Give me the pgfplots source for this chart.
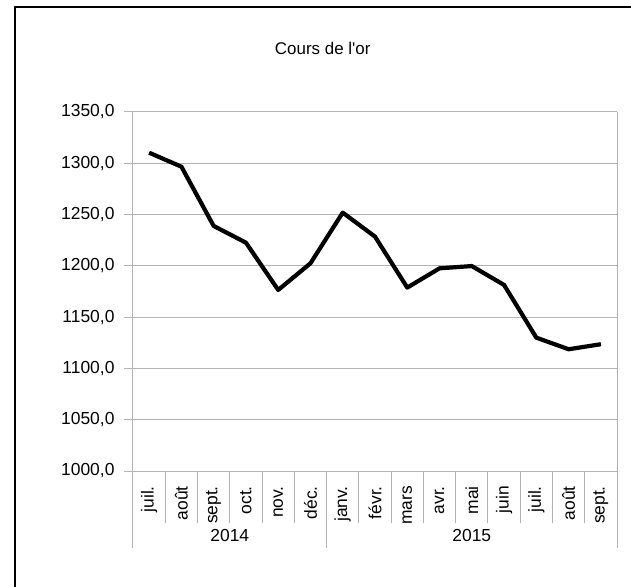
\documentclass[border=0pt]{standalone}
\usepackage{pgfplots}
\pgfplotsset{compat=1.18}
\usepackage{fontspec}
\setmainfont{Liberation Sans}[Ligatures=TeXOff]
\definecolor{gridgray}{HTML}{B3B3B3}
\begin{document}
\begin{tikzpicture}
\path[use as bounding box, clip] (-133bp,-116bp) rectangle (498bp,471bp);
\draw[black, line width=1.5bp] (-118bp,-300bp) rectangle (510bp,464bp);
\begin{axis}[
  at={(0,0)}, anchor=south west,
  scale only axis,
  width=484bp, height=359bp,
  xmin=-0.5, xmax=14.5,
  ymin=1000, ymax=1350,
  ytick={1000,1050,...,1350},
  xtick=\empty,
  font=\fontsize{17.5}{20}\selectfont,
  ticklabel style={font=\fontsize{17.5}{20}\selectfont},
  major y tick style={gridgray, line width=1bp},
  major tick length=9bp,
  tick align=outside,
  y tick label style={xshift=-6bp, /pgf/number format/.cd, fixed, fixed zerofill, precision=1, use comma, 1000 sep={}, assume math mode=true},
  ymajorgrids,
  grid style={gridgray, line width=1bp},
  axis line style={gridgray, line width=1bp},
  axis x line*=bottom,
  axis y line*=left,
  clip=false,
  title={Cours de l'or},
  title style={at={(0.392,1.16)}, anchor=center, font=\fontsize{17}{20}\selectfont},
]
\addplot[black, line width=4.2bp, line join=round] coordinates {
(0,1310.3) (1,1296.7) (2,1238.9) (3,1222.6) (4,1176.5) (5,1202.5)
(6,1251.9) (7,1228.5) (8,1178.8) (9,1197.6) (10,1199.8) (11,1181.4)
(12,1130.0) (13,1118.7) (14,1123.6)
};
\pgfplotsinvokeforeach{0,...,15}{
  \draw[gridgray, line width=1bp] (axis cs:#1-0.5,1000) -- ([yshift=-52bp]axis cs:#1-0.5,1000);
}
\draw[gridgray, line width=1bp] (axis cs:-0.5,1000) -- ([yshift=-77bp]axis cs:-0.5,1000);
\draw[gridgray, line width=1bp] (axis cs:5.5,1000) -- ([yshift=-77bp]axis cs:5.5,1000);
\draw[gridgray, line width=1bp] (axis cs:14.5,1000) -- ([yshift=-77bp]axis cs:14.5,1000);
\draw[gridgray, line width=1bp] (axis cs:14.5,1000) -- (axis cs:14.5,1350);
\tikzset{mlab/.style={rotate=90, anchor=east, inner sep=0pt}}
\node[mlab] at ([yshift=-15bp]axis cs:0,1000) {juil.};
\node[mlab] at ([yshift=-15bp]axis cs:1,1000) {août};
\node[mlab] at ([yshift=-15bp]axis cs:2,1000) {sept.};
\node[mlab] at ([yshift=-15bp]axis cs:3,1000) {oct.};
\node[mlab] at ([yshift=-15bp]axis cs:4,1000) {nov.};
\node[mlab] at ([yshift=-15bp]axis cs:5,1000) {déc.};
\node[mlab] at ([yshift=-15bp]axis cs:6,1000) {janv.};
\node[mlab] at ([yshift=-15bp]axis cs:7,1000) {févr.};
\node[mlab] at ([yshift=-15bp]axis cs:8,1000) {mars};
\node[mlab] at ([yshift=-15bp]axis cs:9,1000) {avr.};
\node[mlab] at ([yshift=-15bp]axis cs:10,1000) {mai};
\node[mlab] at ([yshift=-15bp]axis cs:11,1000) {juin};
\node[mlab] at ([yshift=-15bp]axis cs:12,1000) {juil.};
\node[mlab] at ([yshift=-15bp]axis cs:13,1000) {août};
\node[mlab] at ([yshift=-15bp]axis cs:14,1000) {sept.};
\node at ([yshift=-64bp]axis cs:2.5,1000) {2014};
\node at ([yshift=-64bp]axis cs:10,1000) {2015};
\end{axis}
\end{tikzpicture}
\end{document}
